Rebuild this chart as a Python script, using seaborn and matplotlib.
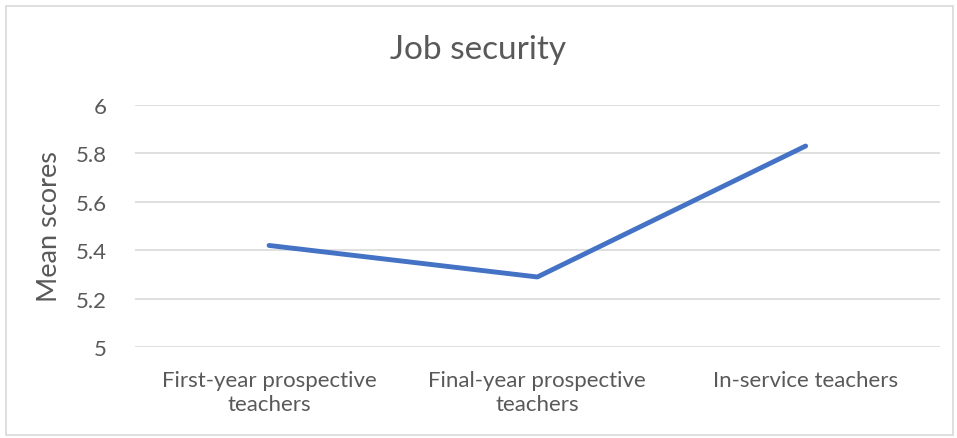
import pandas as pd
import matplotlib.pyplot as plt
import seaborn as sns
from matplotlib.patches import Rectangle

# dati
gruppi = ['First-year prospective\nteachers', 'Final-year prospective\nteachers', 'In-service teachers']
punteggi = [5.42, 5.29, 5.83]
y_ticks = [5, 5.2, 5.4, 5.6, 5.8, 6]
y_tick_labels = ['5', '5.2', '5.4', '5.6', '5.8', '6']

df = pd.DataFrame({'Gruppo': gruppi, 'Punteggio': punteggi})

sns.set_style('white')
plt.rcParams['font.family'] = ['Lato', 'DejaVu Sans']
testo = '#595959'

fig = plt.figure(figsize=(9.57, 4.39), dpi=100)
ax = fig.add_axes([0.141, 0.2066, 0.841, 0.5524])

sns.lineplot(data=df, x='Gruppo', y='Punteggio', sort=False, color='#4472C4',
             linewidth=3.5, solid_capstyle='round', ax=ax, zorder=3)

ax.set_xlim(-0.5, 2.5)
ax.set_ylim(5, 6)
ax.set_yticks(y_ticks)
ax.set_yticklabels(y_tick_labels)
ax.yaxis.grid(True, color='#D9D9D9', linewidth=1.2)
ax.xaxis.grid(False)
for s in ax.spines.values():
    s.set_visible(False)
ax.tick_params(axis='both', length=0, labelsize=16, colors=testo)
ax.tick_params(axis='y', pad=20)
ax.tick_params(axis='x', pad=16)
for lab in ax.get_xticklabels():
    lab.set_linespacing(1.3)

ax.set_xlabel('')
ax.set_ylabel('Mean scores', fontsize=19.5, color=testo, labelpad=10)
fig.text(0.5, 0.885, 'Job security', ha='center', va='center', fontsize=24, color=testo)

# bordo esterno del grafico
fig.patches.append(Rectangle((0.006, 0.007), 0.99, 0.978, transform=fig.transFigure,
                             fill=False, edgecolor='#D9D9D9', linewidth=1.2))

fig.savefig('out.png', dpi=100)
